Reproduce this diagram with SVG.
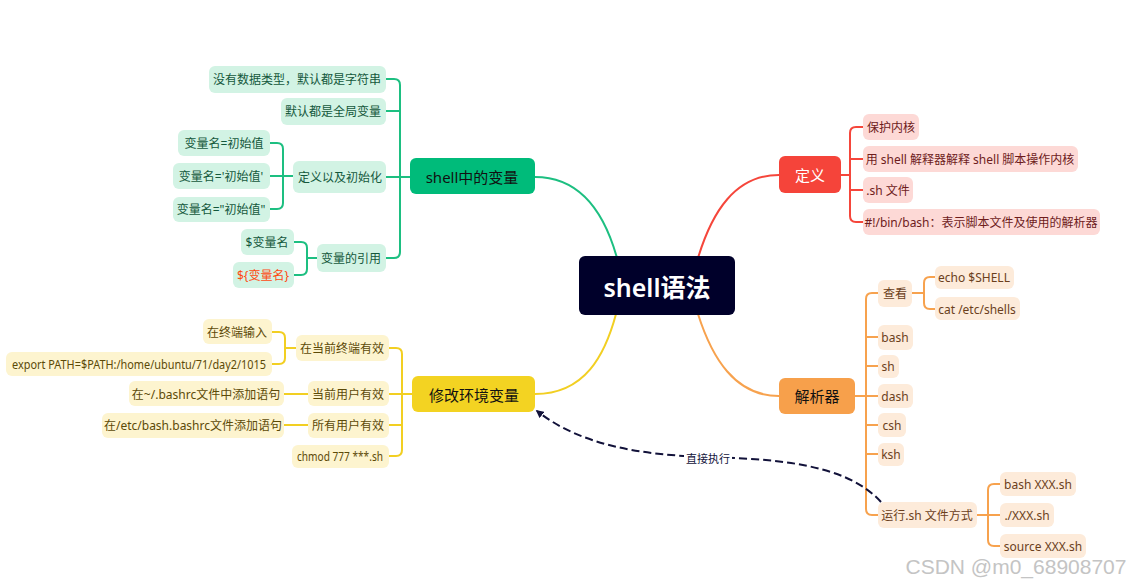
<svg xmlns="http://www.w3.org/2000/svg" width="1135" height="582" viewBox="0 0 1135 582">
<defs>
<style>
text{font-family:"Noto Sans","Noto Sans CJK SC",sans-serif;text-anchor:middle;dominant-baseline:central}
.c{font-size:12px}
.m{font-size:15px}
.g rect{fill:#d2f3e4}.g text{fill:#14583c}
.y rect{fill:#fdf4cf}.y text{fill:#5c4a08}
.r rect{fill:#fdd9d6}.r text{fill:#6e1c1c}
.o rect{fill:#fdebda}.o text{fill:#6b3f1c}
.lg{fill:none;stroke:#1dbf81;stroke-width:2}
.ly{fill:none;stroke:#f2cf22;stroke-width:2}
.lr{fill:none;stroke:#f5463b;stroke-width:2}
.lo{fill:none;stroke:#f7a24e;stroke-width:2}
</style>
<marker id="ah" viewBox="0 0 10 10" refX="8" refY="5" markerWidth="8" markerHeight="8" orient="auto-start-reverse" markerUnits="userSpaceOnUse"><path d="M0,0 L10,5 L0,10 z" fill="#12123a"/></marker>
</defs>
<rect width="1135" height="582" fill="#fff"/>
<g id="connectors">
<path class="lg" d="M535,177 C582,177 605,215 617,258"/>
<path class="ly" d="M535,394 C585,394 605,355 616,314"/>
<path class="lr" d="M779,175 C735,175 712,212 698,258"/>
<path class="lo" d="M779,396 C735,396 712,358 698,314"/>
<path class="lg" d="M386,79 H394 Q400,79 400,85 V252 Q400,258 394,258 H386 M386,111 H400 M386,177 H410"/>
<path class="lg" d="M270,143 H277 Q283,143 283,149 V203 Q283,209 277,209 H270 M270,176 H293"/>
<path class="lg" d="M294,242 H301 Q307,242 307,248 V269 Q307,275 301,275 H294 M307,258 H317"/>
<path class="ly" d="M389,348 H396 Q402,348 402,354 V450 Q402,456 396,456 H389 M389,394 H412 M389,425 H402"/>
<path class="ly" d="M272,332 H279 Q285,332 285,338 V358 Q285,364 279,364 H272 M285,348 H296"/>
<path class="ly" d="M284,394 H308 M284,425 H308"/>
<path class="lr" d="M863,127 H856 Q850,127 850,133 V216 Q850,222 856,222 H863 M841,175 H850 M850,159 H863 M850,190 H863"/>
<path class="lo" d="M878,293 H872 Q866,293 866,299 V509 Q866,515 872,515 H878 M855,396 H878 M866,337 H878 M866,366 H878 M866,425 H878 M866,454 H878"/>
<path class="lo" d="M935,277 H930 Q924,277 924,283 V303 Q924,309 930,309 H935 M912,293 H924"/>
<path class="lo" d="M1000,484 H994 Q988,484 988,490 V540 Q988,546 994,546 H1000 M977,515 H1000"/>
<path d="M881,502 C845,462 770,459 707,457 C640,455 580,445 537,411" fill="none" stroke="#12123a" stroke-width="2" stroke-dasharray="8 4" marker-end="url(#ah)"/>
<rect x="684" y="450" width="48" height="15" fill="#fff"/>
<text x="708" y="458" style="font-size:11px;fill:#12123a">直接执行</text>
</g>
<g id="root"><rect x="579" y="256" width="156" height="59" rx="6" fill="#00002a"/><text x="657" y="287" style="font-size:25px;font-weight:600;fill:#fff">shell语法</text></g>
<g id="n-var"><rect x="410" y="158" width="125" height="36" rx="6" fill="#00bb7a"/><text class="m" x="472" y="177" fill="#111">shell中的变量</text></g>
<g id="n-env"><rect x="412" y="376" width="123" height="36" rx="6" fill="#f3d322"/><text class="m" x="474" y="395" fill="#111">修改环境变量</text></g>
<g id="n-def"><rect x="779" y="156" width="62" height="37" rx="6" fill="#f5443a"/><text class="m" x="810" y="175" fill="#fff">定义</text></g>
<g id="n-parser"><rect x="779" y="378" width="76" height="36" rx="6" fill="#f7a04b"/><text class="m" x="817" y="396" fill="#111">解析器</text></g>
<g class="g">
<g id="g1"><rect x="209" y="66" width="177" height="27" rx="6"/><text class="c" x="297" y="79">没有数据类型，默认都是字符串</text></g>
<g id="g2"><rect x="281" y="98" width="105" height="27" rx="6"/><text class="c" x="333" y="111">默认都是全局变量</text></g>
<g id="g3"><rect x="293" y="161" width="93" height="32" rx="6"/><text class="c" x="340" y="177">定义以及初始化</text></g>
<g id="g4"><rect x="317" y="244" width="69" height="28" rx="6"/><text class="c" x="351" y="258">变量的引用</text></g>
<g id="g5"><rect x="178" y="130" width="92" height="26" rx="6"/><text class="c" x="224" y="143">变量名=初始值</text></g>
<g id="g6"><rect x="173" y="163" width="97" height="26" rx="6"/><text class="c" x="221" y="176">变量名='初始值'</text></g>
<g id="g7"><rect x="173" y="197" width="97" height="25" rx="6"/><text class="c" x="221" y="209">变量名="初始值"</text></g>
<g id="g8"><rect x="241" y="229" width="53" height="26" rx="6"/><text class="c" x="267" y="242">$变量名</text></g>
<g id="g9"><rect x="233" y="262" width="61" height="26" rx="6"/><text class="c" x="263" y="275" style="fill:#ff4a12">${变量名}</text></g>
</g>
<g class="y">
<g id="y1"><rect x="296" y="335" width="93" height="26" rx="6"/><text class="c" x="342" y="348">在当前终端有效</text></g>
<g id="y2"><rect x="308" y="381" width="81" height="25" rx="6"/><text class="c" x="348" y="394">当前用户有效</text></g>
<g id="y3"><rect x="308" y="413" width="81" height="25" rx="6"/><text class="c" x="348" y="425">所有用户有效</text></g>
<g id="y4"><rect x="292" y="445" width="97" height="23" rx="6"/><text class="c" x="340" y="456" textLength="86" lengthAdjust="spacingAndGlyphs">chmod 777 ***.sh</text></g>
<g id="y5"><rect x="203" y="319" width="69" height="25" rx="6"/><text class="c" x="237" y="332">在终端输入</text></g>
<g id="y6"><rect x="6" y="352" width="266" height="24" rx="6"/><text class="c" x="139" y="364" textLength="254" lengthAdjust="spacingAndGlyphs">export PATH=$PATH:/home/ubuntu/71/day2/1015</text></g>
<g id="y7"><rect x="129" y="381" width="155" height="25" rx="6"/><text class="c" x="206" y="394">在~/.bashrc文件中添加语句</text></g>
<g id="y8"><rect x="102" y="413" width="182" height="25" rx="6"/><text class="c" x="193" y="425">在/etc/bash.bashrc文件添加语句</text></g>
</g>
<g class="r">
<g id="r1"><rect x="863" y="114" width="56" height="26" rx="6"/><text class="c" x="891" y="127">保护内核</text></g>
<g id="r2"><rect x="863" y="146" width="215" height="26" rx="6"/><text class="c" x="970" y="159">用 shell 解释器解释 shell 脚本操作内核</text></g>
<g id="r3"><rect x="863" y="177" width="50" height="26" rx="6"/><text class="c" x="888" y="190">.sh 文件</text></g>
<g id="r4"><rect x="863" y="209" width="237" height="26" rx="6"/><text class="c" x="981" y="222">#!/bin/bash：表示脚本文件及使用的解析器</text></g>
</g>
<g class="o">
<g id="o1"><rect x="878" y="280" width="34" height="27" rx="6"/><text class="c" x="895" y="293">查看</text></g>
<g id="o2"><rect x="878" y="325" width="35" height="25" rx="6"/><text class="c" x="895" y="337">bash</text></g>
<g id="o3"><rect x="878" y="355" width="21" height="23" rx="6"/><text class="c" x="888" y="366">sh</text></g>
<g id="o4"><rect x="878" y="384" width="35" height="24" rx="6"/><text class="c" x="895" y="396">dash</text></g>
<g id="o5"><rect x="878" y="413" width="28" height="24" rx="6"/><text class="c" x="892" y="425">csh</text></g>
<g id="o6"><rect x="878" y="443" width="26" height="23" rx="6"/><text class="c" x="891" y="454">ksh</text></g>
<g id="o7"><rect x="878" y="502" width="99" height="26" rx="6"/><text class="c" x="927" y="515">运行.sh 文件方式</text></g>
<g id="o8"><rect x="935" y="266" width="79" height="23" rx="6"/><text class="c" x="974" y="277">echo $SHELL</text></g>
<g id="o9"><rect x="935" y="297" width="85" height="23" rx="6"/><text class="c" x="977" y="309">cat /etc/shells</text></g>
<g id="o10"><rect x="1000" y="472" width="76" height="24" rx="6"/><text class="c" x="1038" y="484">bash XXX.sh</text></g>
<g id="o11"><rect x="1000" y="503" width="54" height="24" rx="6"/><text class="c" x="1027" y="515">./XXX.sh</text></g>
<g id="o12"><rect x="1000" y="534" width="86" height="24" rx="6"/><text class="c" x="1043" y="546">source XXX.sh</text></g>
</g>
<text x="1016" y="566" style="font-family:'Liberation Sans',sans-serif;font-size:21px;fill:#c4c4c4">CSDN @m0_68908707</text>
</svg>
